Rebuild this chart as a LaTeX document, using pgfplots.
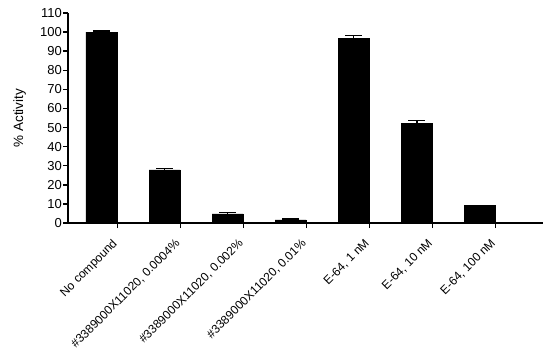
\documentclass[border=0pt]{standalone}
\usepackage{pgfplots}
\pgfplotsset{compat=1.18}
\usepackage{fontspec}
\setmainfont{Liberation Sans}

\begin{document}
\begin{tikzpicture}
\begin{axis}[
  scale only axis,
  width=475pt, height=210pt,
  xmin=-0.53, xmax=7.0,
  ymin=0, ymax=110,
  axis x line=bottom, axis y line=left,
  axis line style={line width=1.4pt, -},
  every tick/.style={line width=1.4pt, black},
  tick align=outside,
  major tick length=5pt,
  ytick={0,10,...,110},
  xtick={0.25,1.25,2.25,3.25,4.25,5.25,6.25},
  xticklabels={No compound, {\#3389000X11020, 0.0004\%}, {\#3389000X11020, 0.002\%}, {\#3389000X11020, 0.01\%}, {E-64, 1 nM}, {E-64, 10 nM}, {E-64, 100 nM}},
  xticklabel style={rotate=45, anchor=north east, font=\fontsize{12}{14}\selectfont, inner sep=0pt, xshift=-11pt, yshift=-3pt},
  yticklabel style={font=\fontsize{13}{15}\selectfont, inner sep=1pt},
  /pgf/number format/assume math mode=true,
  ylabel={\% Activity},
  ylabel style={font=\fontsize{13.5}{15}\selectfont, inner sep=0pt},
  ylabel shift=13pt,
]
\addplot[ybar, bar width=31pt, fill=black, draw=black,
  error bars/.cd, y dir=plus, y explicit,
  error mark options={rotate=90, mark size=8.5pt, line width=1.4pt},
  error bar style={line width=1.4pt}]
coordinates {
  (0,100) +- (0,0.6)
  (1,27.8) +- (0,0.6)
  (2,4.8) +- (0,0.6)
  (3,1.6) +- (0,0.4)
  (4,96.6) +- (0,1.6)
  (5,52.3) +- (0,1.5)
  (6,9.2) +- (0,0.1)
};
\end{axis}
\path (current axis.south east) ++(7pt,0);
\path (current axis.south west) ++(-68pt,0);
\path (current axis.north west) ++(0,13pt);
\end{tikzpicture}
\end{document}
